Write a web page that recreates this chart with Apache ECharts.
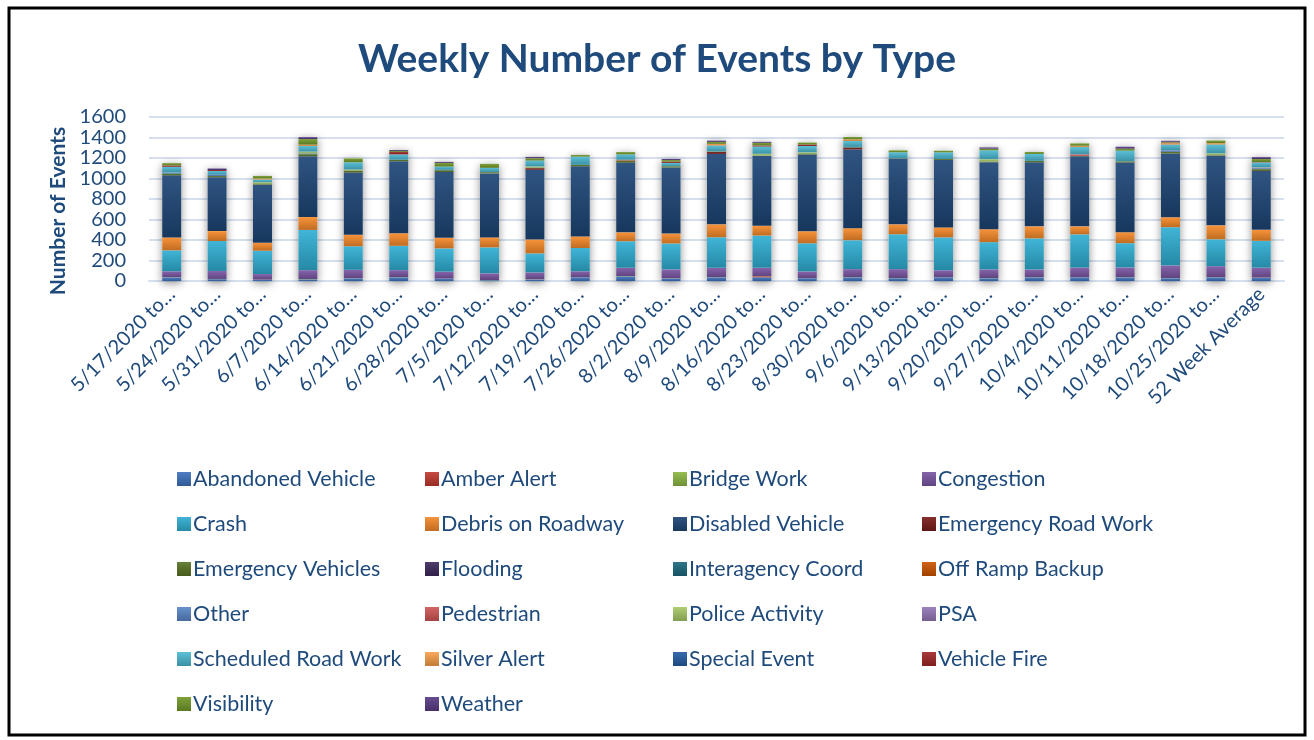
<!DOCTYPE html>
<html>
<head>
<meta charset="utf-8">
<script src="https://cdn.jsdelivr.net/npm/echarts@6/dist/echarts.min.js"></script>
<style>
html,body{margin:0;padding:0;background:#fff;}
#main{width:1314px;height:740px;}
</style>
</head>
<body>
<div id="main"></div>
<script>
// week start dates, Excel cut the labels to "x to…"
var weeks = ['5/17/2020','5/24/2020','5/31/2020','6/7/2020','6/14/2020','6/21/2020','6/28/2020',
	'7/5/2020','7/12/2020','7/19/2020','7/26/2020','8/2/2020','8/9/2020','8/16/2020','8/23/2020',
	'8/30/2020','9/6/2020','9/13/2020','9/20/2020','9/27/2020','10/4/2020','10/11/2020',
	'10/18/2020','10/25/2020','52 Week Average'];

var yTicks = [0,200,400,600,800,1000,1200,1400,1600];

var abandonedVehicle  = [35,18,12,16,26,36,22,8,14,36,45,24,36,36,27,36,27,36,27,36,36,36,27,36,30];
var amberAlert        = [0,0,0,0,0,0,0,0,0,0,0,0,0,10,0,0,0,0,0,0,0,0,0,0,1];
var bridgeWork        = [2,2,1,3,2,2,1,2,2,1,3,2,2,2,1,2,2,1,2,2,1,2,2,2,2];
var congestion        = [58,78,55,87,81,68,68,65,68,58,81,87,91,81,65,78,87,68,84,74,94,94,123,107,97];
var crash             = [204,292,227,392,230,237,227,253,185,227,259,253,298,314,275,282,340,321,266,304,324,237,373,262,262];
var debrisOnRoadway   = [126,97,78,126,113,123,104,97,136,113,87,97,126,97,117,117,97,97,126,117,78,107,97,136,107];
var disabledVehicle   = [606,525,567,593,606,703,641,625,680,684,680,645,687,680,748,768,641,658,654,625,684,680,622,680,573];
var emergencyRoadWork = [0,0,0,0,0,0,0,0,16,0,0,0,20,0,0,16,0,0,0,0,0,0,0,0,2];
var emergencyVehicles = [14,12,6,20,20,14,17,12,4,14,20,12,4,4,5,4,4,9,5,14,4,12,16,5,17];
var flooding          = [0,0,0,0,0,0,0,0,0,0,0,0,0,0,0,0,0,0,0,0,0,0,0,0,1];
var interagencyCoord  = [6,0,0,4,0,0,4,0,0,0,0,0,0,0,0,5,0,0,0,0,0,0,0,0,3];
var offRampBackup     = [0,0,0,0,0,0,0,0,0,0,0,0,0,0,0,0,0,0,0,0,0,0,0,0,1];
var other             = [8,12,0,5,0,0,0,0,0,0,0,0,0,0,0,0,0,0,0,0,0,0,16,0,10];
var pedestrian        = [0,0,0,0,0,0,0,0,0,0,8,0,0,0,0,0,0,0,0,0,15,0,0,0,1];
var policeActivity    = [0,0,17,16,9,0,0,0,12,0,0,0,0,17,17,0,0,0,24,0,0,0,0,17,2];
var psa               = [0,0,0,0,0,0,0,0,0,0,0,0,0,0,0,0,0,0,0,0,0,0,0,0,1];
var scheduledRoadWork = [55,37,26,55,71,52,32,42,58,81,52,32,58,71,62,58,58,65,87,68,71,104,55,87,45];
var silverAlert       = [0,0,10,13,0,0,0,0,0,0,0,0,16,0,0,16,0,0,0,0,13,0,13,13,2];
var specialEvent      = [0,0,0,0,0,0,0,0,0,0,0,0,0,0,0,0,0,0,0,0,0,0,0,0,2];
var vehicleFire       = [13,10,0,0,0,24,0,0,0,0,0,12,0,10,15,0,0,0,0,0,0,0,6,0,2];
var visibility        = [23,0,26,55,39,10,36,39,23,16,23,16,19,26,19,23,19,16,16,19,23,19,8,26,29];
var weather           = [0,15,0,19,0,9,10,0,13,0,0,10,13,10,0,0,0,0,13,0,0,19,10,0,19];

var seriesNames = ['Abandoned Vehicle','Amber Alert','Bridge Work','Congestion','Crash','Debris on Roadway',
	'Disabled Vehicle','Emergency Road Work','Emergency Vehicles','Flooding','Interagency Coord','Off Ramp Backup',
	'Other','Pedestrian','Police Activity','PSA','Scheduled Road Work','Silver Alert','Special Event',
	'Vehicle Fire','Visibility','Weather'];
var seriesData = [abandonedVehicle,amberAlert,bridgeWork,congestion,crash,debrisOnRoadway,
	disabledVehicle,emergencyRoadWork,emergencyVehicles,flooding,interagencyCoord,offRampBackup,
	other,pedestrian,policeActivity,psa,scheduledRoadWork,silverAlert,specialEvent,
	vehicleFire,visibility,weather];
var colors = ['#3F73BE','#C23A30','#8DB843','#7B57A4','#30AFD3','#F68A2A',
	'#1E4677','#7A1C1A','#5A7524','#3E2A5C','#1B6A7E','#CC5500',
	'#5B87C8','#D05656','#A8CB68','#9478B8','#4DBAD4','#F8A04A','#255EA4',
	'#A22828','#749A2A','#5A3D86'];

var shade = function(hex,f){
	var n = parseInt(hex.slice(1),16);
	var c = [(n>>16)&255,(n>>8)&255,n&255].map(function(v){
		v = f<0 ? v*(1+f) : v+(255-v)*f;
		return Math.max(0,Math.min(255,Math.round(v)));
	});
	return 'rgb('+c.join(',')+')';
};
var grad = function(hex){
	return new echarts.graphic.LinearGradient(0,0,0,1,[
		{offset:0,color:shade(hex,0.08)},
		{offset:1,color:shade(hex,-0.22)}
	]);
};

var totals = weeks.map(function(w,i){
	var s = 0;
	seriesData.forEach(function(d){ s += d[i]; });
	return s;
});

var txt = '#1F4A7C';
var font = 'Lato';

var series = [{
	name:'_shadow',
	type:'bar',
	data:totals,
	barWidth:19,
	barGap:'-100%',
	silent:true,
	z:1,
	itemStyle:{color:'#fff',shadowBlur:9,shadowColor:'rgba(0,0,0,0.45)',shadowOffsetY:2}
}];
seriesNames.forEach(function(name,i){
	series.push({
		name:name,
		type:'bar',
		stack:'events',
		data:seriesData[i],
		barWidth:19,
		barGap:'-100%',
		z:2,
		itemStyle:{color:grad(colors[i])}
	});
});

// legend laid out as 4 columns like the Excel one
var legendCols = [172,420,668,917];
var legends = legendCols.map(function(x,c){
	return {
		orient:'vertical',
		left:x,
		top:463,
		itemWidth:14,
		itemHeight:14,
		itemGap:23,
		icon:'rect',
		selectedMode:false,
		data:seriesNames.filter(function(n,i){ return i%4===c; }),
		textStyle:{color:txt,fontSize:21.5,fontFamily:font,lineHeight:21,padding:[0,0,0,-3]}
	};
});

var myChart = echarts.init(document.getElementById('main'));
var option = {
	animation:false,
	color:colors,
	title:{
		text:'Weekly Number of Events by Type',
		left:'center',
		top:35,
		textStyle:{color:txt,fontSize:39,fontWeight:'bold',fontFamily:font}
	},
	legend:legends,
	grid:{left:149,right:30,top:117,bottom:459},
	xAxis:{
		type:'category',
		data:weeks,
		axisLine:{lineStyle:{color:'#D5DFEE',width:2}},
		axisTick:{show:false},
		axisLabel:{
			rotate:45,
			interval:0,
			margin:10,
			color:txt,
			fontSize:20,
			fontFamily:font,
			formatter:function(v){ return v.indexOf('Week')>=0 ? v : v+' to\u2026'; }
		}
	},
	yAxis:{
		type:'value',
		min:yTicks[0],
		max:yTicks[yTicks.length-1],
		interval:yTicks[1]-yTicks[0],
		name:'Number of Events',
		nameLocation:'middle',
		nameGap:80,
		nameTextStyle:{color:txt,fontSize:21,fontWeight:'bold',fontFamily:font,padding:[0,24,0,0]},
		axisLine:{show:false},
		axisTick:{show:false},
		axisLabel:{color:txt,fontSize:20,fontFamily:font,margin:23,formatter:function(v){ return String(v); }},
		splitLine:{lineStyle:{color:'#D5DFEE',width:2}}
	},
	graphic:[{
		type:'rect',
		shape:{x:9,y:8,width:1296,height:727},
		style:{fill:'none',stroke:'#000',lineWidth:3},
		silent:true
	}],
	series:series
};
myChart.setOption(option);
window.onresize = function(){
	myChart.resize();
};
</script>
</body>
</html>
